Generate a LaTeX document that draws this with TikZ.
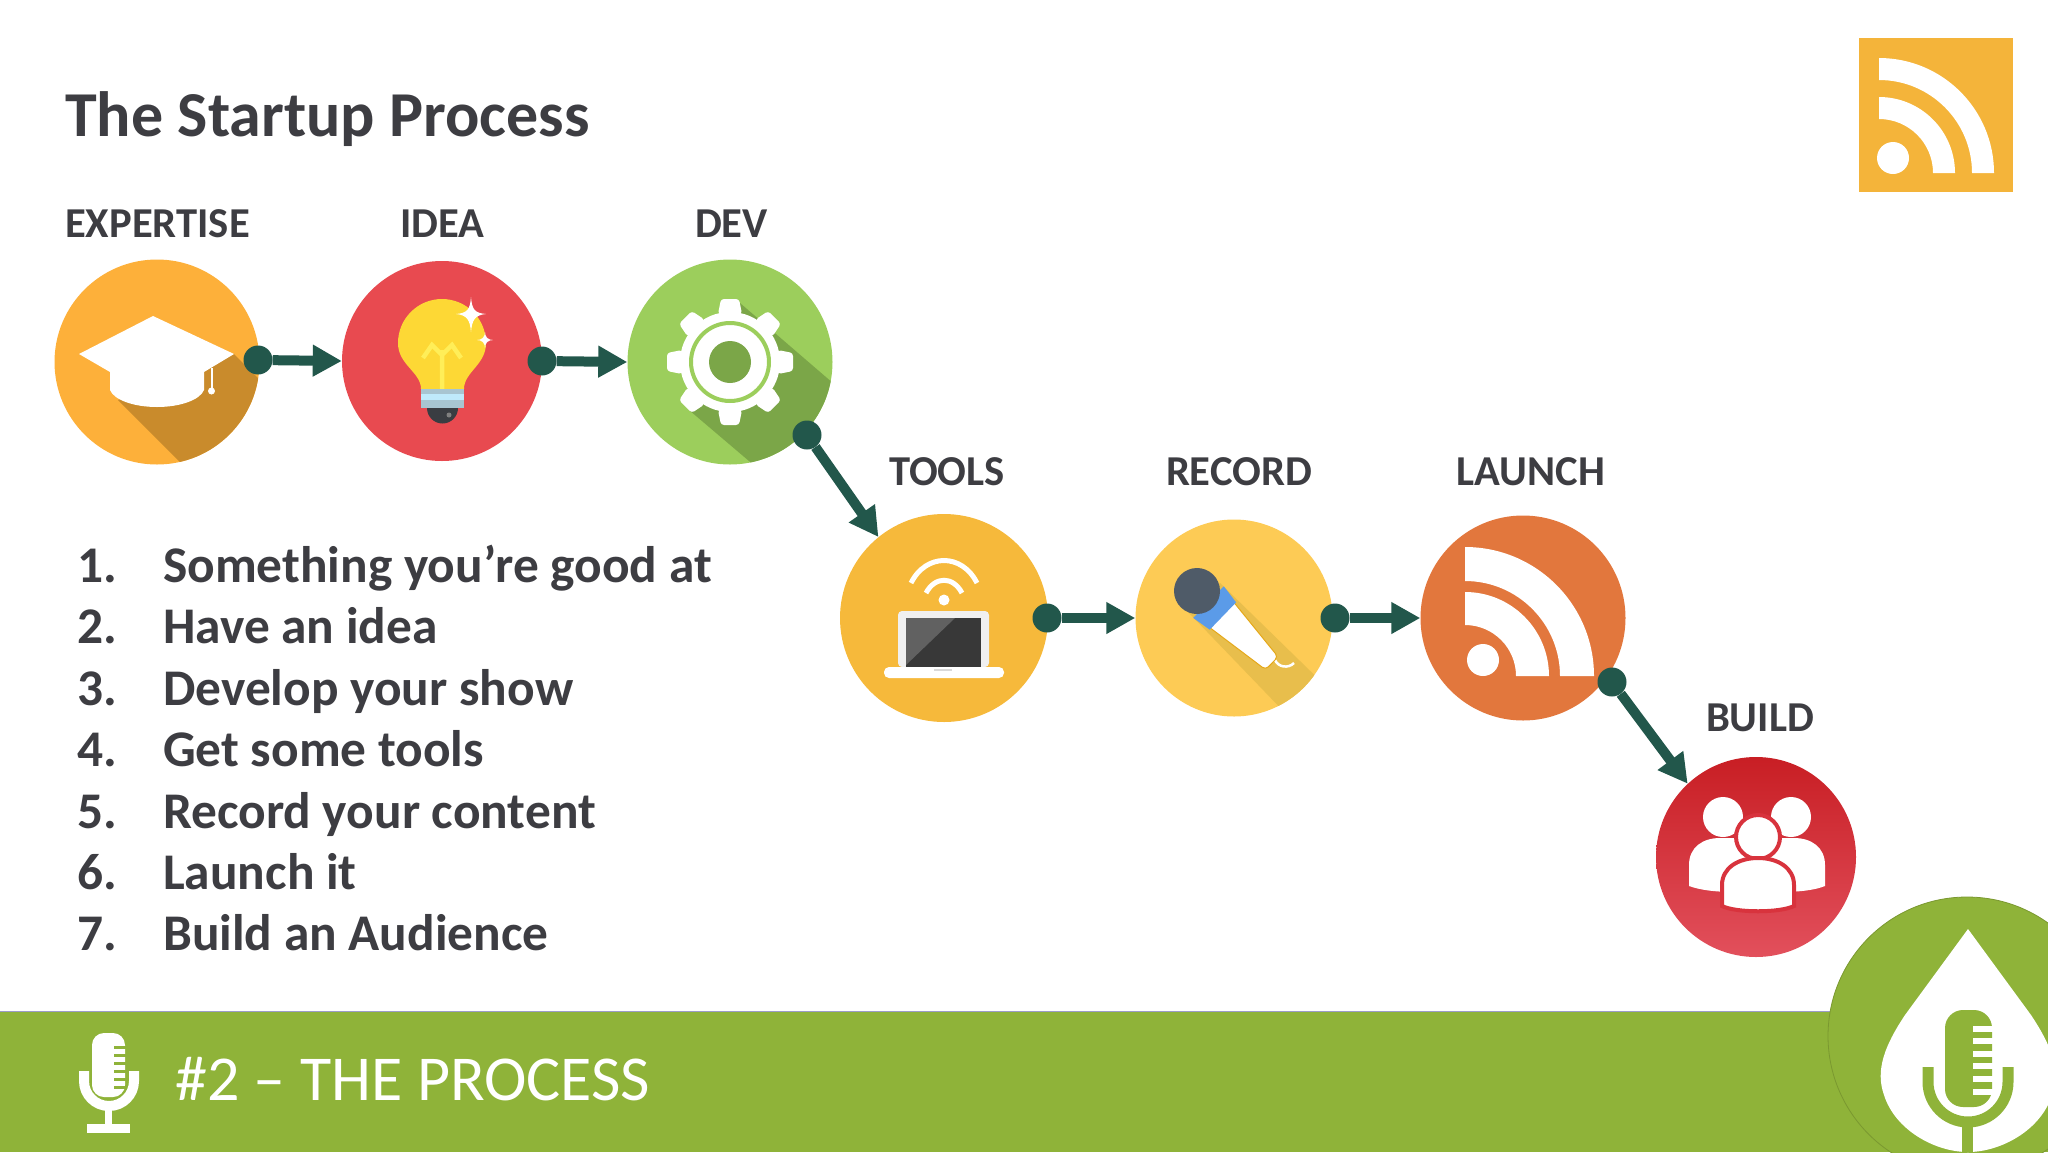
\documentclass[tikz,border=0pt]{standalone}
\usepackage{fontspec}
\setmainfont{Carlito}
\usetikzlibrary{arrows.meta}

\definecolor{barGreen}{HTML}{8FB339}
\definecolor{inkGray}{HTML}{3D3D42}
\definecolor{flowGreen}{HTML}{22574B}
\definecolor{rssSquare}{HTML}{F4B43A}
\definecolor{expertiseFill}{HTML}{FDB03A}
\definecolor{expertiseShade}{HTML}{C98B2C}
\definecolor{ideaFill}{HTML}{E84A50}
\definecolor{devFill}{HTML}{9CCE5C}
\definecolor{devShade}{HTML}{7BA648}
\definecolor{toolsFill}{HTML}{F6B93B}
\definecolor{recordFill}{HTML}{FDCB55}
\definecolor{recordShade}{HTML}{E8BE4C}
\definecolor{launchFill}{HTML}{E2773D}
\definecolor{buildTop}{HTML}{C81E24}
\definecolor{buildBottom}{HTML}{E2505C}
\definecolor{buildGap}{HTML}{D8333D}
\definecolor{bulbYellow}{HTML}{FDD835}
\definecolor{bulbLine}{HTML}{FFEE58}
\definecolor{micHead}{HTML}{4F5B68}
\definecolor{micRing}{HTML}{5B9BE8}

% one band of the feed symbol: origin x, origin y, outer and inner radius
\newcommand{\feedband}[4]{
  \fill[white] (#1,#2) ++(#3,0) arc[start angle=0,end angle=90,radius=#3pt]
    -- ++(0,{#3-#4}) arc[start angle=90,end angle=0,radius=#4pt] -- cycle;
}

\begin{document}
\begin{tikzpicture}[x=1pt,y=-1pt,
    stage/.style={circle,inner sep=0pt,minimum size=#1},
    stagename/.style={font=\fontsize{42.6}{50}\selectfont\bfseries,text=inkGray,inner sep=0pt},
    item/.style={font=\fontsize{51.4}{60}\selectfont\bfseries,text=inkGray,inner sep=0pt,anchor=base west},
    knob/.style={circle,fill=flowGreen,inner sep=0pt,minimum size=29pt},
    flow/.style={draw=flowGreen,line width=10pt,-{Triangle[length=29pt,width=30pt]}}]
    \useasboundingbox (0,0) rectangle (2048,1152);

    % bottom bar and title
    \fill[barGreen] (0,1011) rectangle (2048,1152);
    \draw[color=blue!30!gray!60,line width=1pt] (0,1011) -- (1830,1011);
    \node[anchor=base west,inner sep=0pt,text=inkGray,font=\fontsize{64}{74}\selectfont\bfseries] (title) at (65,136) {The Startup Process};
    \node[anchor=base west,inner sep=0pt,text=white,font=\fontsize{64}{76}\selectfont] (episode) at (175,1100) {\#2 – THE PROCESS};

    % feed square
    \fill[rssSquare] (1859,38) rectangle (2013,192);
    \feedband{1879}{173}{115}{93}
    \feedband{1879}{173}{76}{54}
    \fill[white] (1893,158) circle (16pt);

    % stages
    \node[stage=205pt,fill=expertiseFill] (expertise) at (157,362) {};
    \node[stage=200pt,fill=ideaFill] (idea) at (442,361) {};
    \node[stage=205pt,fill=devFill] (dev) at (730,362) {};
    \node[stage=208pt,fill=toolsFill] (tools) at (944,618) {};
    \node[stage=197pt,fill=recordFill] (record) at (1234,618) {};
    \node[stage=205pt,fill=launchFill] (launch) at (1523,618) {};
    \node[stage=200pt,top color=buildTop,bottom color=buildBottom] (build) at (1756,857) {};

    \node[stagename] (expertiselabel) at (157.5,224) {EXPERTISE};
    \node[stagename] (idealabel) at (442.5,224) {IDEA};
    \node[stagename] (devlabel) at (731.5,224) {DEV};
    \node[stagename] (toolslabel) at (947,472) {TOOLS};
    \node[stagename] (recordlabel) at (1239,472) {RECORD};
    \node[stagename] (launchlabel) at (1531,472) {LAUNCH};
    \node[stagename] (buildlabel) at (1760,718) {BUILD};

    % shadows of the icons
    \begin{scope}
        \clip (157,362) circle (102.5pt);
        \fill[expertiseShade] (118,400) -- (218,500) -- (334,454) -- (234,354) -- cycle;
    \end{scope}
    \begin{scope}
        \clip (730,362) circle (102.5pt);
        \fill[devShade] (689,410) -- (789,495) -- (899,440) -- (740,303) -- cycle;
    \end{scope}
    \begin{scope}
        \clip (1234,618) circle (98.5pt);
        \fill[recordShade] (1188,612) -- (1290,718) -- (1340,700) -- (1220,583) -- cycle;
    \end{scope}

    % mortarboard
    \fill[white] (79,354) -- (153,316) -- (234,354) -- (204,372) -- (204,390)
        .. controls (200,400) and (180,407) .. (157,407)
        .. controls (134,407) and (114,400) .. (110,390) -- (110,372) -- cycle;
    \draw[white,line width=2pt] (211.5,368) -- (211.5,390);
    \fill[white] (211.5,391) circle (3.5pt);

    % bulb
    \fill[bulbYellow] (421,389) .. controls (421,372) and (398,365) .. (398,343)
        arc[start angle=180,end angle=0,radius=44pt]
        .. controls (486,365) and (464,372) .. (464,389) -- cycle;
    \draw[bulbLine,line width=4.5pt] (442,389) -- (442,350)
        (423,358) -- (432,345) -- (442,355) -- (452,345) -- (461,358);
    \fill[cyan!35!gray!60] (421,389) rectangle (464,408);
    \fill[cyan!25!white] (421,394) rectangle (464,400);
    \fill[black!85!cyan] (427,408) -- (458,408) arc[start angle=0,end angle=-180,radius=15.5pt] -- cycle;
    \fill[gray] (449,415) circle (2.5pt);
    \fill[white] (471,297) .. controls (472,310) and (475,313) .. (486,314)
        .. controls (475,315) and (472,320) .. (471,332)
        .. controls (470,320) and (467,315) .. (456,314)
        .. controls (467,313) and (470,310) .. (471,297) -- cycle;
    \fill[white] (485,332) .. controls (485,337) and (488,340) .. (493,340)
        .. controls (488,340) and (485,343) .. (485,348)
        .. controls (485,343) and (482,340) .. (477,340)
        .. controls (482,340) and (485,337) .. (485,332) -- cycle;

    % gear
    \begin{scope}[shift={(730,362)}]
        \fill[white] (0,0) circle (50pt);
        \foreach \a in {0,45,...,315} {
            \fill[white,rounded corners=3pt,rotate=\a] (48,-12) -- (63,-9) -- (63,9) -- (48,12) -- cycle;
        }
        \draw[devFill,line width=4pt] (0,0) circle (39pt);
        \fill[devShade] (0,0) circle (21pt);
    \end{scope}

    % laptop
    \fill[black!6,rounded corners=4pt] (898,667) -- (898,611) -- (989,611) -- (989,667) -- cycle;
    \fill[black!78] (906,618) rectangle (981,667);
    \fill[black!62] (906,618) -- (955,618) -- (906,665) -- cycle;
    \fill[white,rounded corners=5pt] (884,667) -- (1004,667) -- (1004,678) -- (884,678) -- cycle;
    \fill[black!15] (934,669) rectangle (952,671);
    \draw[white,line width=5pt] (911,583) .. controls (926,553) and (962,553) .. (977,583);
    \draw[white,line width=5pt] (926,593) .. controls (935,576) and (953,576) .. (962,593);
    \fill[white] (944,600) circle (5.5pt);

    % microphone
    \draw[white,line width=2.5pt] (1275,660) .. controls (1278,667) and (1288,669) .. (1294,663);
    \begin{scope}[shift={(1197,591)},rotate=-44]
        \filldraw[fill=white,draw=orange!60!yellow!80!gray,line width=1pt,rounded corners=4pt] (30,-18) -- (104,-9) -- (104,9) -- (30,18) -- cycle;
        \fill[micRing] (16,-22) -- (36,-19) -- (36,19) -- (16,22) -- cycle;
        \fill[micHead] (0,0) circle (23pt);
    \end{scope}

    % feed symbol of the launch stage
    \feedband{1465}{676}{129}{95}
    \feedband{1465}{676}{84}{51}
    \fill[white] (1483,660) circle (16pt);

    % people
    \foreach \hx in {1723,1791} { \fill[white] (\hx,817) circle (20pt); }
    \fill[white] (1689,886) -- (1689,865) .. controls (1689,847) and (1703,838) .. (1720,838)
        -- (1794,838) .. controls (1811,838) and (1825,847) .. (1825,865)
        -- (1825,886) .. controls (1815,890) and (1800,892) .. (1780,892)
        -- (1735,892) .. controls (1715,892) and (1700,890) .. (1689,886) -- cycle;
    \filldraw[fill=white,draw=buildGap,line width=4pt] (1758,837) circle (22pt);
    \filldraw[fill=white,draw=buildGap,line width=4pt] (1722,906) -- (1722,885)
        .. controls (1722,868) and (1738,858) .. (1758,858)
        .. controls (1778,858) and (1794,868) .. (1794,885) -- (1794,906)
        .. controls (1780,913) and (1736,913) .. (1722,906) -- cycle;

    % knobs and arrows
    \node[knob] (knobone) at (258,360) {};
    \node[knob] (knobtwo) at (542,361) {};
    \node[knob] (knobthree) at (807,435) {};
    \node[knob] (knobfour) at (1047,618) {};
    \node[knob] (knobfive) at (1335,618) {};
    \node[knob] (knobsix) at (1612,682) {};
    \draw[flow] (knobone) -- (idea.west);
    \draw[flow] (knobtwo) -- (dev.west);
    \draw[flow] (knobthree) -- (tools.129);
    \draw[flow] (knobfour) -- (record.west);
    \draw[flow] (knobfive) -- (launch.west);
    \draw[flow] (knobsix) -- (build.133);

    % numbered list
    \foreach \n/\txt in {1/Something you’re good at,2/Have an idea,3/Develop your show,4/Get some tools,5/Record your content,6/Launch it,7/Build an Audience} {
        \node[item] (num\n) at (77,{582.5+61.4*(\n-1)}) {\n.};
        \node[item] (line\n) at (163,{582.5+61.4*(\n-1)}) {\txt};
    }

    % small microphone in the bar
    \draw[white,line width=10pt] (84,1071) -- (84,1081) arc[start angle=180,end angle=360,radius=25pt] -- (134,1071);
    \fill[white,rounded corners=12pt] (92,1033) rectangle (125,1097);
    \foreach \sy in {1046,1054,...,1086} { \fill[barGreen] (114,\sy) rectangle (126,\sy+3); }
    \fill[white] (105,1108) rectangle (112,1125);
    \fill[white] (87,1124) rectangle (130,1133);

    % drop logo
    \filldraw[fill=barGreen,draw=barGreen!85!black,line width=0.8pt] (1967,1036) circle (139pt);
    \fill[white] (1968,929) -- (1905,1015) .. controls (1885,1045) and (1875,1070) .. (1884,1095)
        .. controls (1895,1130) and (1935,1152) .. (1968,1152)
        .. controls (2001,1152) and (2041,1130) .. (2052,1095)
        .. controls (2061,1070) and (2051,1045) .. (2031,1015) -- cycle;
    \fill[barGreen,rounded corners=18pt] (1945,1010) rectangle (1992,1107);
    \foreach \sy in {1026,1038,1051,1063,1076,1089} { \fill[white] (1973,\sy) rectangle (1993,\sy+6); }
    \draw[barGreen,line width=11pt] (1928,1067) -- (1928,1082) arc[start angle=180,end angle=360,radius=40pt] -- (2008,1067);
    \fill[barGreen] (1962,1125) rectangle (1973,1152);
\end{tikzpicture}
\end{document}
